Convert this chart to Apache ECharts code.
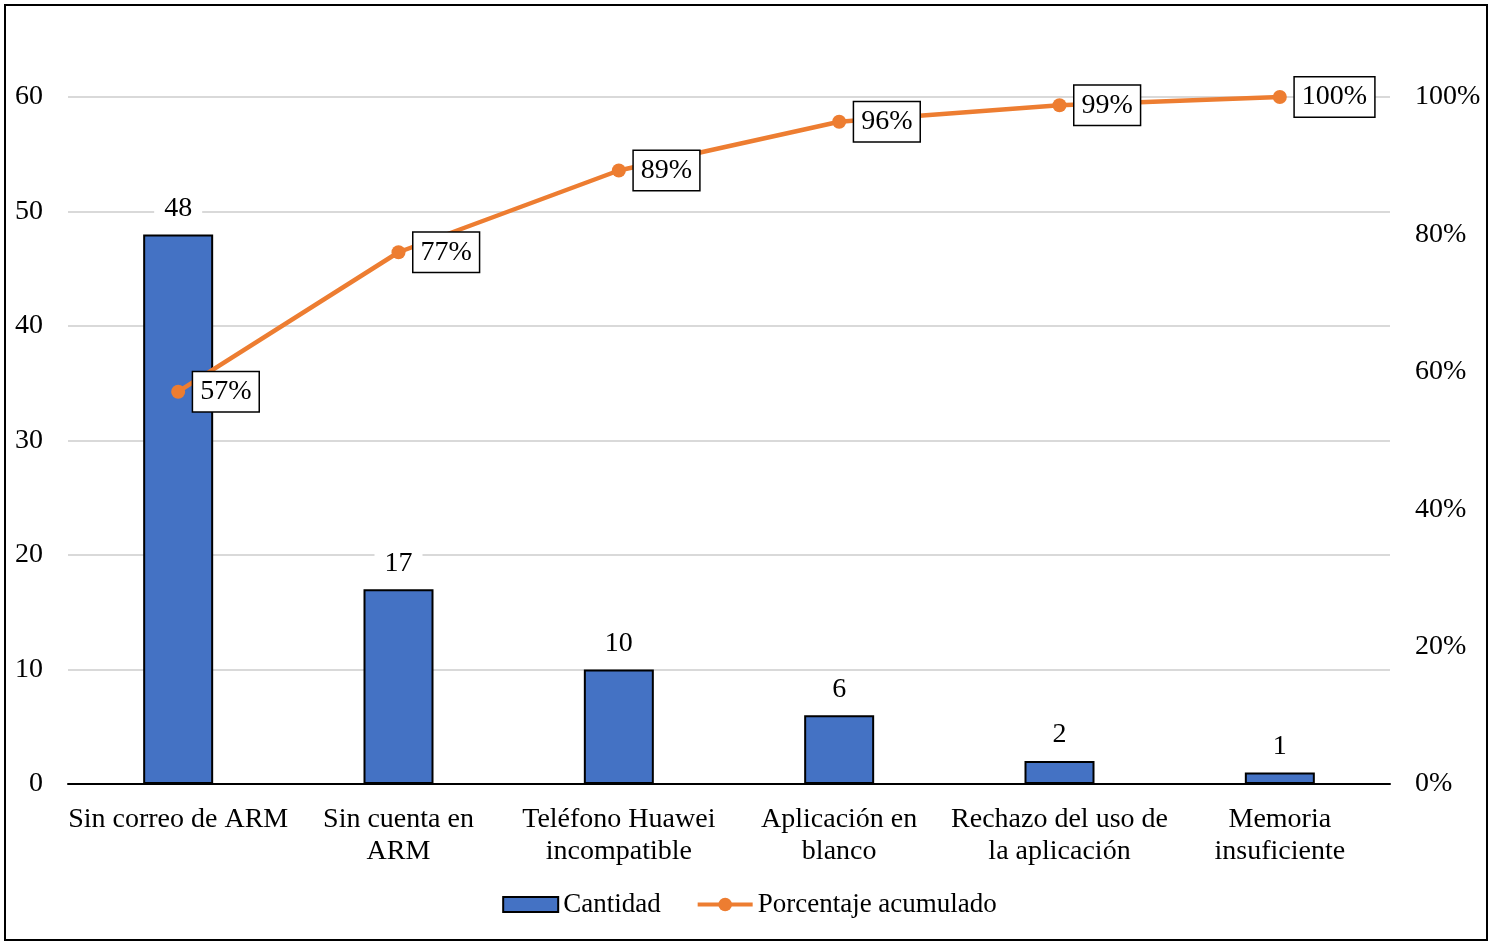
<!DOCTYPE html>
<html>
<head>
<meta charset="utf-8">
<script src="https://cdn.jsdelivr.net/npm/echarts@6/dist/echarts.min.js"></script>
<style>
  html, body { margin: 0; padding: 0; background: #fff; }
  #chart { width: 1499px; height: 941px; }
</style>
</head>
<body>
<div id="chart"></div>
<script>
// Pareto data: causes, counts, cumulative share
const categories = [
  'Sin correo de ARM',
  'Sin cuenta en\nARM',
  'Teléfono Huawei\nincompatible',
  'Aplicación en\nblanco',
  'Rechazo del uso de\nla aplicación',
  'Memoria\ninsuficiente'
];
const cantidad = [48, 17, 10, 6, 2, 1];
const porcentajeAcumulado = [57.1, 77.4, 89.3, 96.4, 98.8, 100];
const leftTicks = { min: 0, max: 60, interval: 10 };
const rightTicks = { min: 0, max: 100, interval: 20 };

const FONT = '"Liberation Serif", "Times New Roman", serif';
const FS = 28;

const chart = echarts.init(document.getElementById('chart'), null, { renderer: 'canvas' });

chart.setOption({
  backgroundColor: '#ffffff',
  animation: false,
  textStyle: { fontFamily: FONT, color: '#000' },
  graphic: [{
    type: 'rect',
    shape: { x: 5, y: 5, width: 1482, height: 935 },
    style: { fill: 'none', stroke: '#000', lineWidth: 2 },
    z: 100
  }],
  grid: { left: 68, right: 109, top: 97, bottom: 157 },
  legend: {
    bottom: 18,
    left: 'center',
    itemGap: 35,
    itemWidth: 55,
    itemHeight: 17,
    lineStyle: { width: 4 },
    textStyle: { fontFamily: FONT, fontSize: 27, color: '#000' },
    data: [
      { name: 'Cantidad', icon: 'path://M0,0H51V14H0Z' },
      { name: 'Porcentaje acumulado' }
    ]
  },
  xAxis: {
    type: 'category',
    data: categories,
    axisTick: { show: false },
    axisLine: { lineStyle: { color: '#000', width: 2 } },
    axisLabel: {
      interval: 0,
      margin: 20,
      fontFamily: FONT,
      fontSize: FS,
      lineHeight: 32,
      color: '#000',
      align: 'center'
    }
  },
  yAxis: [{
    type: 'value',
    min: leftTicks.min,
    max: leftTicks.max,
    interval: leftTicks.interval,
    axisLine: { show: false },
    axisTick: { show: false },
    splitLine: { lineStyle: { color: '#d9d9d9', width: 2 } },
    axisLabel: { margin: 25, fontFamily: FONT, fontSize: FS, color: '#000', padding: [4, 0, 0, 0] }
  }, {
    type: 'value',
    min: rightTicks.min,
    max: rightTicks.max,
    interval: rightTicks.interval,
    axisLine: { show: false },
    axisTick: { show: false },
    splitLine: { show: false },
    axisLabel: {
      margin: 25,
      fontFamily: FONT,
      fontSize: FS,
      color: '#000',
      padding: [4, 0, 0, 0],
      formatter: v => v + '%'
    }
  }],
  series: [{
    name: 'Cantidad',
    type: 'bar',
    data: cantidad,
    barWidth: 70,
    itemStyle: { color: '#4472C4', borderColor: '#000', borderWidth: 2 },
    label: {
      show: true,
      position: 'top',
      distance: 12,
      fontFamily: FONT,
      fontSize: FS,
      color: '#000',
      backgroundColor: '#fff',
      padding: [2, 10, 0, 10]
    },
    z: 2
  }, {
    name: 'Porcentaje acumulado',
    type: 'line',
    yAxisIndex: 1,
    data: porcentajeAcumulado,
    symbol: 'circle',
    symbolSize: 14,
    lineStyle: { color: '#ED7D31', width: 4.5 },
    itemStyle: { color: '#ED7D31' },
    label: {
      show: true,
      position: 'right',
      distance: 8,
      fontFamily: FONT,
      fontSize: FS,
      color: '#000',
      backgroundColor: '#fff',
      borderColor: '#000',
      borderWidth: 1.5,
      padding: [6, 7, 5, 7],
      formatter: p => Math.round(p.value) + '%'
    },
    z: 5
  }]
});
</script>
</body>
</html>
